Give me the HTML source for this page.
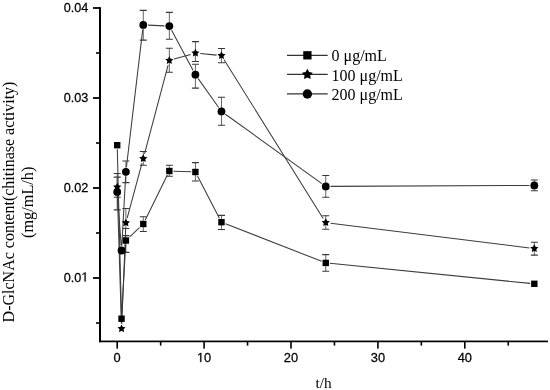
<!DOCTYPE html><html><head><meta charset="utf-8"><style>html,body{margin:0;padding:0;background:#fff;}svg{display:block;will-change:transform;}</style></head><body>
<svg width="550" height="390" viewBox="0 0 550 390">
<g stroke="#666" stroke-width="1" fill="none">
<path d="M125.89 161V182.6"/>
<path d="M143.27 10.4V40.1"/>
<path d="M169.34 12.4V39.2"/>
<path d="M195.41 64.2V88.1"/>
<path d="M221.48 97.3V125.3"/>
<path d="M325.76 175.5V197.2"/>
<path d="M534.32 180V190.8"/>
<path d="M143.27 151.5V165.3"/>
<path d="M169.34 48.3V72.2"/>
<path d="M195.41 41.6V61.5"/>
<path d="M221.48 48.5V62.7"/>
<path d="M325.76 215.7V229.2"/>
<path d="M534.32 242.2V255.1"/>
<path d="M125.89 208.5V228.5"/>
<path d="M143.27 216.7V231.5"/>
<path d="M169.34 165.3V176.2"/>
<path d="M195.41 162.6V181"/>
<path d="M221.48 215.4V229.5"/>
<path d="M325.76 254.6V271.3"/>
<path d="M125.89 235.6V252.4"/>
<path d="M117.20 173.5V209.9"/>
<path d="M117.20 177.1V197.3"/>
</g><g stroke="#383838" stroke-width="1.1" fill="none">
<path d="M122.39 161h7M122.39 182.6h7"/>
<path d="M139.77 10.4h7M139.77 40.1h7"/>
<path d="M165.84 12.4h7M165.84 39.2h7"/>
<path d="M191.91 64.2h7M191.91 88.1h7"/>
<path d="M217.98 97.3h7M217.98 125.3h7"/>
<path d="M322.26 175.5h7M322.26 197.2h7"/>
<path d="M530.82 180h7M530.82 190.8h7"/>
<path d="M139.77 151.5h7M139.77 165.3h7"/>
<path d="M165.84 48.3h7M165.84 72.2h7"/>
<path d="M191.91 41.6h7M191.91 61.5h7"/>
<path d="M217.98 48.5h7M217.98 62.7h7"/>
<path d="M322.26 215.7h7M322.26 229.2h7"/>
<path d="M530.82 242.2h7M530.82 255.1h7"/>
<path d="M122.39 208.5h7M122.39 228.5h7"/>
<path d="M139.77 216.7h7M139.77 231.5h7"/>
<path d="M165.84 165.3h7M165.84 176.2h7"/>
<path d="M191.91 162.6h7M191.91 181h7"/>
<path d="M217.98 215.4h7M217.98 229.5h7"/>
<path d="M322.26 254.6h7M322.26 271.3h7"/>
<path d="M122.39 235.6h7M122.39 252.4h7"/>
<path d="M113.70 173.5h7M113.70 209.9h7"/>
<path d="M113.70 177.1h7M113.70 197.3h7"/>
</g>
<g stroke="#3c3c3c" stroke-width="1.05" fill="none" stroke-linecap="butt">
<path d="M117.30 149.30L121.44 314.60M121.77 314.60L125.66 244.60M129.74 236.84L139.42 227.66M145.24 219.99L167.37 175.01M173.44 171.16L191.31 171.84M197.49 176.00L219.40 218.20M225.52 223.78L321.72 261.32M329.86 263.31L530.22 283.39"/>
<path d="M117.35 192.00L121.39 323.80M121.75 323.80L125.69 227.70M127.17 218.07L141.99 163.23M144.53 153.76L168.08 65.14M174.06 59.08L190.69 54.42M200.29 53.57L216.60 55.13M224.08 59.76L323.16 218.44M330.62 223.20L529.46 247.90"/>
<path d="M117.55 196.69L121.19 245.71M121.81 245.71L125.63 176.59M126.45 167.03L142.71 29.67M148.06 25.12L164.55 25.88M171.61 30.33L193.14 70.47M198.19 78.61L218.70 107.49M225.38 114.20L321.86 183.60M330.56 186.38L529.52 185.42"/>
</g>
<g fill="#000">
<rect x="114.00" y="142.00" width="6.4" height="6.4"/>
<rect x="118.34" y="315.50" width="6.4" height="6.4"/>
<rect x="122.69" y="237.30" width="6.4" height="6.4"/>
<rect x="140.07" y="220.80" width="6.4" height="6.4"/>
<rect x="166.14" y="167.80" width="6.4" height="6.4"/>
<rect x="192.21" y="168.80" width="6.4" height="6.4"/>
<rect x="218.28" y="219.00" width="6.4" height="6.4"/>
<rect x="322.56" y="259.70" width="6.4" height="6.4"/>
<rect x="531.12" y="280.60" width="6.4" height="6.4"/>
<polygon points="117.20,182.80 118.46,185.36 121.29,185.77 119.24,187.76 119.73,190.58 117.20,189.25 114.67,190.58 115.16,187.76 113.11,185.77 115.94,185.36"/>
<polygon points="121.55,324.40 122.81,326.96 125.63,327.37 123.59,329.36 124.07,332.18 121.55,330.85 119.02,332.18 119.50,329.36 117.46,327.37 120.28,326.96"/>
<polygon points="125.89,218.50 127.15,221.06 129.98,221.47 127.93,223.46 128.42,226.28 125.89,224.95 123.36,226.28 123.85,223.46 121.80,221.47 124.63,221.06"/>
<polygon points="143.27,154.20 144.53,156.76 147.36,157.17 145.31,159.16 145.80,161.98 143.27,160.65 140.74,161.98 141.23,159.16 139.18,157.17 142.01,156.76"/>
<polygon points="169.34,56.10 170.60,58.66 173.43,59.07 171.38,61.06 171.87,63.88 169.34,62.55 166.81,63.88 167.30,61.06 165.25,59.07 168.08,58.66"/>
<polygon points="195.41,48.80 196.67,51.36 199.50,51.77 197.45,53.76 197.94,56.58 195.41,55.25 192.88,56.58 193.37,53.76 191.32,51.77 194.15,51.36"/>
<polygon points="221.48,51.30 222.74,53.86 225.57,54.27 223.52,56.26 224.01,59.08 221.48,57.75 218.95,59.08 219.44,56.26 217.39,54.27 220.22,53.86"/>
<polygon points="325.76,218.30 327.02,220.86 329.85,221.27 327.80,223.26 328.29,226.08 325.76,224.75 323.23,226.08 323.72,223.26 321.67,221.27 324.50,220.86"/>
<polygon points="534.32,244.20 535.58,246.76 538.41,247.17 536.36,249.16 536.85,251.98 534.32,250.65 531.79,251.98 532.28,249.16 530.23,247.17 533.06,246.76"/>
<circle cx="117.20" cy="191.90" r="3.9"/>
<circle cx="121.55" cy="250.50" r="3.9"/>
<circle cx="125.89" cy="171.80" r="3.9"/>
<circle cx="143.27" cy="24.90" r="3.9"/>
<circle cx="169.34" cy="26.10" r="3.9"/>
<circle cx="195.41" cy="74.70" r="3.9"/>
<circle cx="221.48" cy="111.40" r="3.9"/>
<circle cx="325.76" cy="186.40" r="3.9"/>
<circle cx="534.32" cy="185.40" r="3.9"/>
</g>
<g fill="#000">
<rect x="99" y="7.2" width="2" height="335"/>
<rect x="99" y="340.55" width="448.9" height="1.7"/>
<rect x="93" y="7.10" width="7" height="1.8"/>
<rect x="93" y="97.10" width="7" height="1.8"/>
<rect x="93" y="187.10" width="7" height="1.8"/>
<rect x="93" y="277.10" width="7" height="1.8"/>
<rect x="96" y="52.20" width="4" height="1.6"/>
<rect x="96" y="142.20" width="4" height="1.6"/>
<rect x="96" y="232.20" width="4" height="1.6"/>
<rect x="96" y="322.20" width="4" height="1.6"/>
<rect x="116.40" y="341" width="1.6" height="7.6"/>
<rect x="159.85" y="341" width="1.6" height="4.6"/>
<rect x="203.30" y="341" width="1.6" height="7.6"/>
<rect x="246.75" y="341" width="1.6" height="4.6"/>
<rect x="290.20" y="341" width="1.6" height="7.6"/>
<rect x="333.65" y="341" width="1.6" height="4.6"/>
<rect x="377.10" y="341" width="1.6" height="7.6"/>
<rect x="420.55" y="341" width="1.6" height="4.6"/>
<rect x="464.00" y="341" width="1.6" height="7.6"/>
<rect x="507.45" y="341" width="1.6" height="4.6"/>
</g>
<g font-family="Liberation Sans, sans-serif" font-size="13" fill="#000" stroke="#000" stroke-width="0.25">
<g transform="translate(63.737,11.50) scale(0.96,1)" font-size="13.2">
<text x="0.000" y="0">0.04</text>
</g>
<g transform="translate(63.737,101.50) scale(0.96,1)" font-size="13.2">
<text x="0.000" y="0">0.03</text>
</g>
<g transform="translate(63.737,191.50) scale(0.96,1)" font-size="13.2">
<text x="0.000" y="0">0.02</text>
</g>
<g transform="translate(63.737,281.50) scale(0.96,1)" font-size="13.2">
<text x="0.000" y="0">0.0</text>
<path transform="translate(18.350,0) scale(0.006445,-0.006445)" d="M515 0V1237L197 1010V1180L530 1409H696V0Z" vector-effect="non-scaling-stroke"/>
</g>
<g transform="translate(113.621,362.10) scale(0.975,1)" font-size="13.2">
<text x="0.000" y="0">0</text>
</g>
<g transform="translate(196.942,362.10) scale(0.975,1)" font-size="13.2">
<path transform="translate(0.000,0) scale(0.006445,-0.006445)" d="M515 0V1237L197 1010V1180L530 1409H696V0Z" vector-effect="non-scaling-stroke"/>
<text x="7.341" y="0">0</text>
</g>
<g transform="translate(283.842,362.10) scale(0.975,1)" font-size="13.2">
<text x="0.000" y="0">20</text>
</g>
<g transform="translate(370.742,362.10) scale(0.975,1)" font-size="13.2">
<text x="0.000" y="0">30</text>
</g>
<g transform="translate(457.642,362.10) scale(0.975,1)" font-size="13.2">
<text x="0.000" y="0">40</text>
</g>
</g>
<g font-family="Liberation Serif, serif" font-size="16" fill="#000">
<text x="323.5" y="388" text-anchor="middle" font-size="15.3">t/h</text>
<text transform="translate(13.5,202) rotate(-90)" text-anchor="middle">D-GlcNAc content(chitinase activity)</text>
<text transform="translate(32.9,202.3) rotate(-90)" text-anchor="middle" font-size="16.3">(mg/mL/h)</text>
</g>
<g stroke="#333" stroke-width="1.2">
<line x1="287" y1="55.3" x2="327.7" y2="55.3"/>
<line x1="287" y1="74.45" x2="327.7" y2="74.45"/>
<line x1="287" y1="93.85" x2="327.7" y2="93.85"/>
</g><g fill="#000">
<rect x="303.25" y="51.15" width="8.3" height="8.3"/>
<polygon points="307.35,68.80 309.09,72.10 312.77,72.74 310.17,75.42 310.70,79.11 307.35,77.46 304.00,79.11 304.53,75.42 301.93,72.74 305.61,72.10"/>
<circle cx="307.35" cy="94.00" r="4.7"/>
</g>
<g font-family="Liberation Serif, serif" font-size="16" fill="#000">
<text x="331.6" y="61.20">0 μg/mL</text>
<text x="331.6" y="80.50">100 μg/mL</text>
<text x="331.6" y="99.70">200 μg/mL</text>
</g>
</svg></body></html>
